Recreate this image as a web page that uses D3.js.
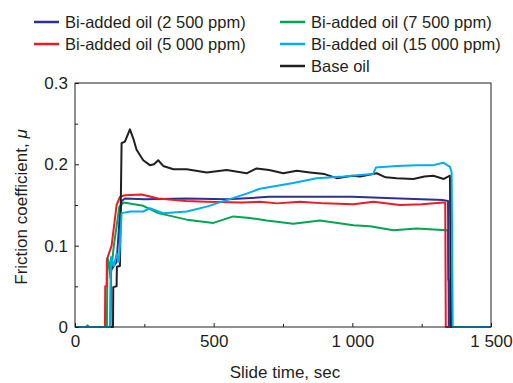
<!DOCTYPE html>
<html>
<head>
<meta charset="utf-8">
<script src="https://cdn.jsdelivr.net/npm/d3@7"></script>
<style>
  body { margin: 0; background: #fff; }
  svg { display: block; font-family: "Liberation Sans", Arial, sans-serif; }
</style>
</head>
<body>
<div id="chart"></div>
<script>
// SERIES DATA (time in sec, friction coefficient)
const bi2500T = [0, 128, 130, 150, 160, 168, 180, 250, 400, 550, 700, 850, 1000, 1172, 1328, 1345, 1348, 1500];
const bi2500F = [0, 0, 0.07, 0.08, 0.13, 0.155, 0.158, 0.157, 0.158, 0.157, 0.16, 0.16, 0.16, 0.158, 0.156, 0.155, 0, 0];

const bi5000T = [0, 108, 109, 114, 115, 132, 150, 162, 180, 240, 300, 400, 475, 600, 667, 730, 811, 900, 1004, 1076, 1172, 1250, 1328, 1335, 1337, 1500];
const bi5000F = [0, 0, 0.05, 0.05, 0.083, 0.1, 0.15, 0.16, 0.162, 0.163, 0.158, 0.155, 0.154, 0.153, 0.154, 0.152, 0.154, 0.152, 0.151, 0.154, 0.15, 0.151, 0.153, 0.153, 0, 0];

const bi7500T = [0, 40, 45, 50, 115, 117, 122, 128, 140, 160, 175, 246, 300, 403, 499, 571, 631, 691, 787, 883, 1004, 1064, 1148, 1232, 1340, 1345, 1346, 1350, 1351, 1500];
const bi7500F = [0, 0, 0.002, 0, 0, 0.085, 0.08, 0.06, 0.1, 0.148, 0.153, 0.149, 0.14, 0.132, 0.128, 0.136, 0.134, 0.131, 0.127, 0.131, 0.125, 0.124, 0.119, 0.121, 0.119, 0.119, 0.058, 0.058, 0, 0];

const bi15000T = [0, 126, 130, 140, 150, 158, 162, 168, 200, 246, 270, 318, 403, 475, 547, 619, 667, 703, 787, 871, 968, 1028, 1075, 1085, 1160, 1232, 1292, 1328, 1352, 1358, 1362, 1500];
const bi15000F = [0, 0, 0.086, 0.075, 0.09, 0.08, 0.1, 0.14, 0.142, 0.142, 0.146, 0.14, 0.142, 0.148, 0.156, 0.164, 0.17, 0.172, 0.177, 0.183, 0.185, 0.187, 0.188, 0.196, 0.198, 0.199, 0.199, 0.202, 0.197, 0.19, 0, 0];

const baseT = [0, 137, 138, 150, 151, 162, 168, 180, 198, 210, 222, 246, 270, 285, 300, 318, 355, 403, 475, 547, 619, 655, 700, 751, 800, 847, 900, 944, 1000, 1028, 1088, 1120, 1160, 1220, 1260, 1292, 1330, 1352, 1356, 1500];
const baseF = [0, 0, 0.049, 0.05, 0.074, 0.075, 0.226, 0.228, 0.243, 0.232, 0.218, 0.205, 0.199, 0.2, 0.205, 0.198, 0.194, 0.194, 0.19, 0.193, 0.189, 0.195, 0.193, 0.189, 0.192, 0.19, 0.188, 0.183, 0.186, 0.185, 0.189, 0.184, 0.183, 0.182, 0.185, 0.186, 0.182, 0.186, 0, 0];

const seriesNames = ['Bi-added oil (2 500 ppm)', 'Bi-added oil (5 000 ppm)', 'Bi-added oil (7 500 ppm)', 'Bi-added oil (15 000 ppm)', 'Base oil'];
const seriesColors = ['#2e3192', '#ed1c24', '#00a651', '#00aeef', '#231f20'];

const xTicks = [0, 500, 1000, 1500];
const xTickLabels = ['0', '500', '1 000', '1 500'];
const xMinor = [250, 750, 1250];
const yTicks = [0, 0.1, 0.2, 0.3];
const yTickLabels = ['0', '0.1', '0.2', '0.3'];
const yMinor = [0.05, 0.15, 0.25];

const W = 513, H = 383;
const m = { top: 83, right: 22, bottom: 56, left: 75 };
const w = W - m.left - m.right;
const h = H - m.top - m.bottom;
const ink = '#231f20';

const svg = d3.select('#chart').append('svg').attr('width', W).attr('height', H);
const g = svg.append('g').attr('transform', `translate(${m.left},${m.top})`);

// SCALES
const x = d3.scaleLinear().domain([0, 1500]).range([0, w]);
const y = d3.scaleLinear().domain([0, 0.3]).range([h, 0]);

// LINES
const series = [
  [bi2500T, bi2500F], [bi5000T, bi5000F], [bi7500T, bi7500F], [bi15000T, bi15000F], [baseT, baseF]
];
const line = d3.line().x(d => x(d[0])).y(d => y(d[1]));
const drawOrder = [2, 0, 1, 4, 3];
drawOrder.forEach(i => {
  const pts = series[i][0].map((t, k) => [t, series[i][1][k]]);
  g.append('path').datum(pts)
    .attr('fill', 'none').attr('stroke', seriesColors[i])
    .attr('stroke-width', 2).attr('stroke-linejoin', 'round')
    .attr('d', line);
});

// AXES (ticks point inward)
const fs = 17;
g.append('g').attr('transform', `translate(0,${h})`)
  .call(d3.axisBottom(x).tickValues(xTicks).tickSize(-4).tickPadding(8).tickFormat((d, i) => xTickLabels[i]));
g.append('g').attr('transform', `translate(0,${h})`)
  .call(d3.axisBottom(x).tickValues(xMinor).tickSize(-3).tickFormat(''));
g.append('g')
  .call(d3.axisLeft(y).tickValues(yTicks).tickSize(-4).tickPadding(7).tickFormat((d, i) => yTickLabels[i]));
g.append('g').call(d3.axisLeft(y).tickValues(yMinor).tickSize(-3).tickFormat(''));
g.selectAll('.domain').remove();
g.selectAll('.tick line').attr('stroke', ink);
g.selectAll('.tick text').attr('fill', ink).style('font-size', fs + 'px');

// FRAME
g.append('rect').attr('width', w).attr('height', h)
  .attr('fill', 'none').attr('stroke', ink).attr('stroke-width', 1);

// AXIS TITLES
svg.append('text').attr('x', m.left + w / 2 + 2).attr('y', 378)
  .attr('text-anchor', 'middle').attr('fill', ink).style('font-size', fs + 'px')
  .text('Slide time, sec');
const yl = svg.append('text').attr('transform', `translate(27,${m.top + h / 2 + 2}) rotate(-90)`)
  .attr('text-anchor', 'middle').attr('fill', ink).style('font-size', fs + 'px');
yl.append('tspan').text('Friction coefficient, ');
yl.append('tspan').style('font-style', 'italic').text('μ');

// LEGEND
const legPos = [[34, 22], [34, 44], [280, 22], [280, 44], [280, 66]];
seriesNames.forEach((name, i) => {
  const [lx, ly] = legPos[i];
  const lg = svg.append('g').attr('transform', `translate(${lx},${ly})`);
  lg.append('line').attr('x1', 0).attr('x2', 25).attr('y1', 0).attr('y2', 0)
    .attr('stroke', seriesColors[i]).attr('stroke-width', 2.5);
  lg.append('text').attr('x', 31).attr('y', 6).attr('fill', ink)
    .style('font-size', '16.5px').text(name);
});
</script>
</body>
</html>
